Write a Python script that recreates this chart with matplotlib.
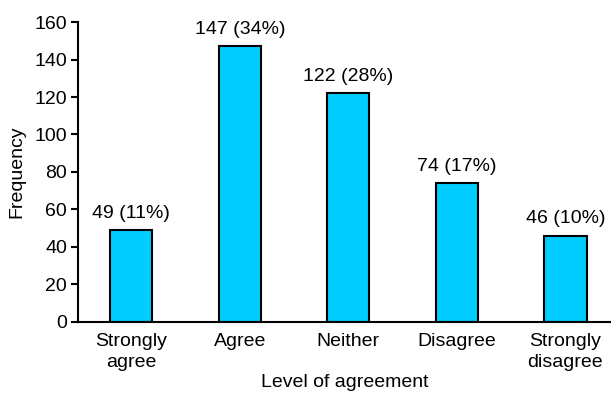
import matplotlib.pyplot as plt

plt.rcParams['font.family'] = ['Liberation Sans', 'DejaVu Sans']

categories = ["Strongly\nagree", "Agree", "Neither", "Disagree", "Strongly\ndisagree"]
counts = [49, 147, 122, 74, 46]
percents = [11, 34, 28, 17, 10]

fig = plt.figure(figsize=(6.11, 3.93), dpi=100)
ax = fig.add_axes([0.1277, 0.1807, 0.8723, 0.7633])

x = range(len(categories))
bars = ax.bar(x, counts, width=0.39, color="#00CCFF", edgecolor="black", linewidth=1.5)

for xi, c, p in zip(x, counts, percents):
    ax.text(xi, c + 4.5, f"{c} ({p}%)", ha="center", va="bottom", fontsize=14)

ax.set_xlim(-0.49, 4.42)
ax.set_ylim(0, 160)
ax.set_yticks(range(0, 161, 20))
ax.set_xticks(list(x))
ax.set_xticklabels(categories, fontsize=14, linespacing=1.3)
ax.tick_params(axis="x", length=0, pad=8)
ax.tick_params(axis="y", labelsize=14, length=5, width=1.5, direction="out", pad=3)

ax.spines["top"].set_visible(False)
ax.spines["right"].set_visible(False)
ax.spines["left"].set_linewidth(1.5)
ax.spines["bottom"].set_linewidth(1.5)

ax.set_xlabel("Level of agreement", fontsize=14, labelpad=2)
ax.set_ylabel("Frequency", fontsize=14, labelpad=6)

fig.savefig("out.png", dpi=100)
